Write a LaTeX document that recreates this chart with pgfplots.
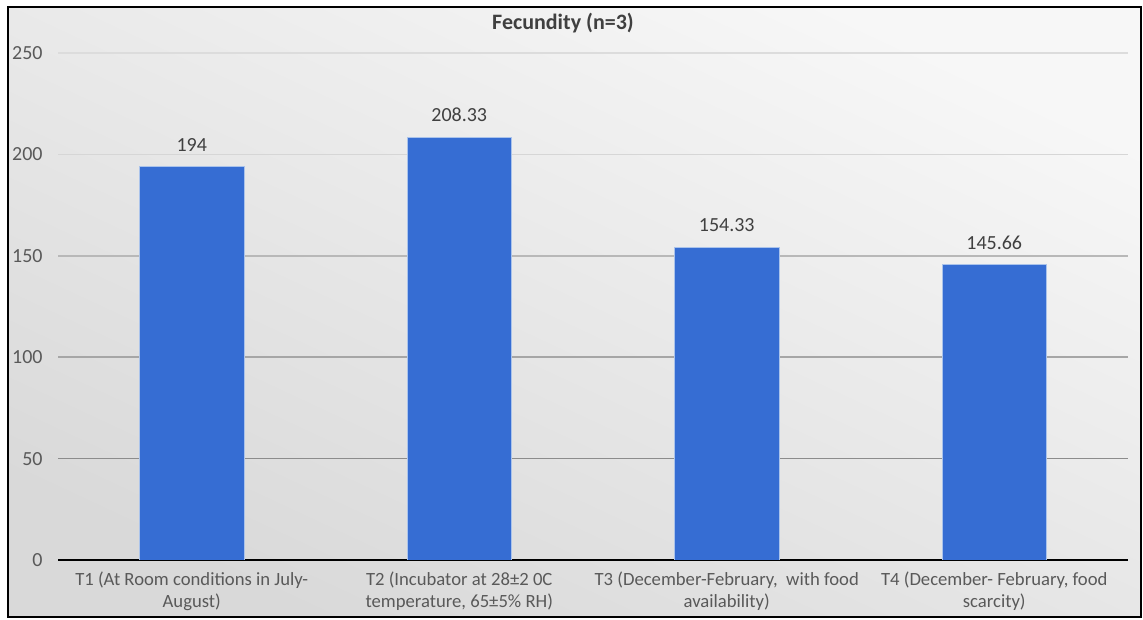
\documentclass[border=0pt]{standalone}
\usepackage{pgfplots}
\pgfplotsset{compat=1.18}
\usepackage{fontspec}
\setmainfont{Carlito}
\definecolor{barblue}{HTML}{366DD3}
\definecolor{txt}{HTML}{595959}
\definecolor{lbl}{HTML}{404040}
\definecolor{bgtop}{HTML}{F7F7F7}
\definecolor{bgbot}{HTML}{D9D9D9}
\begin{document}
\begin{tikzpicture}[x=0.75pt,y=0.75pt]
\useasboundingbox (0,0) rectangle (1143,620);
\fill[white] (0,0) rectangle (1143,620);
\shade[top color=bgtop, bottom color=bgbot, shading angle=-25]
  (8,3) rectangle (1141,613);
% gridlines (pixel positions matching the axis below)
\draw[line width=1.2pt, color={rgb,255:red,220;green,220;blue,220}] (58,567) -- (1128,567);
\draw[line width=1.2pt, color={rgb,255:red,214;green,214;blue,214}] (58,465.6) -- (1128,465.6);
\draw[line width=1.2pt, color={rgb,255:red,184;green,184;blue,184}] (58,364.2) -- (1128,364.2);
\draw[line width=1.2pt, color={rgb,255:red,166;green,166;blue,166}] (58,262.8) -- (1128,262.8);
\draw[line width=1.2pt, color={rgb,255:red,140;green,140;blue,140}] (58,161.4) -- (1128,161.4);
\node[font=\bfseries\fontsize{16.5}{18}\selectfont, text=lbl] at (563,597) {Fecundity (n=3)};
\begin{axis}[
  at={(43.5pt,45pt)}, anchor=south west,
  scale only axis, width=802.5pt, height=380.25pt,
  xmin=-0.5, xmax=3.5, ymin=0, ymax=250,
  ytick={0,50,100,150,200,250},
  xtick={0,1,2,3},
  xticklabels={{T1 (At Room conditions in July-\\August)},
               {T2 (Incubator at 28±2 0C\\temperature, 65±5\% RH)},
               {T3 (December-February,~ with food\\availability)},
               {T4 (December- February, food\\scarcity)}},
  extra x ticks={-0.5,0.5,1.5,2.5,3.5},
  extra x tick labels={},
  extra x tick style={major tick length=4pt, tick style={black, line width=1.2pt}},
  axis x line*=bottom,
  axis y line*=left,
  x axis line style={black, line width=1.6pt, -},
  y axis line style={draw=none},
  xtick style={draw=none},
  ytick style={draw=none},
  /pgf/number format/assume math mode=true,
  yticklabel style={font=\fontsize{15}{18}\selectfont, text=txt, xshift=-8pt},
  xticklabel style={font=\fontsize{14}{16.5}\selectfont, text=txt, align=center, yshift=-1pt},
  ybar, bar width=0.39,
  nodes near coords,
  every node near coord/.append style={font=\fontsize{15}{18}\selectfont, text=lbl, anchor=south, yshift=8pt,
     /pgf/number format/assume math mode=true},
]
\addplot[fill=barblue, draw={rgb,255:red,170;green,195;blue,235}, line width=0.4pt]
  coordinates {(0,194) (1,208.33) (2,154.33) (3,145.66)};
\end{axis}
\draw[black, line width=1.6pt] (8,3) rectangle (1141,613);
\end{tikzpicture}
\end{document}
